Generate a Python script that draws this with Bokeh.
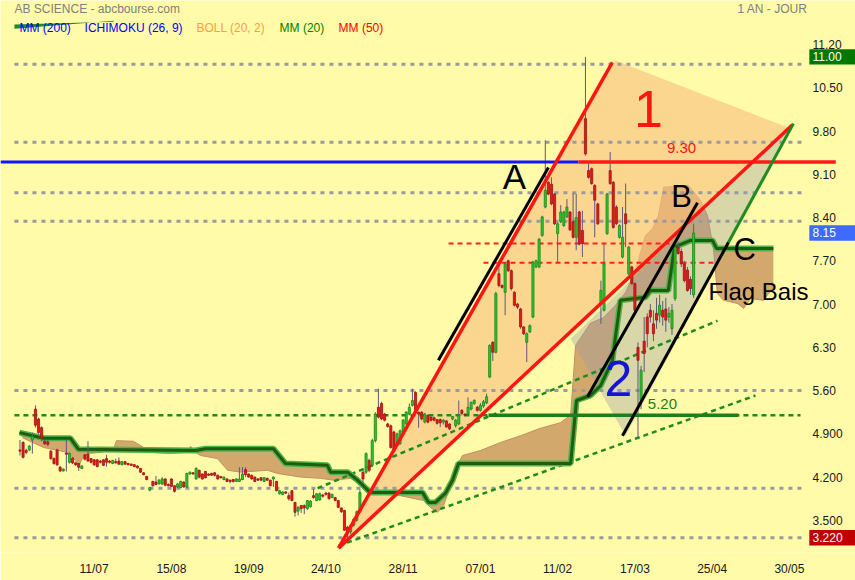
from bokeh.plotting import figure
from bokeh.models import ColumnDataSource, FixedTicker
from bokeh.core.properties import value
from bokeh.embed import file_html
from bokeh.resources import INLINE

# ---------------- daily sessions (index = trading session) ----------------
opens = [
    4.64, 4.76, 4.63, 4.64, 4.80, 5.30, 5.14, 5.00, 4.78, 4.77,
    4.62, 4.50, 4.64, 4.36, 4.30, 4.59, 4.44, 4.51, 4.43, 4.42,
    4.34, 4.56, 4.57, 4.50, 4.48, 4.48, 4.46, 4.48, 4.50, 4.46,
    4.42, 4.45, 4.46, 4.40, 4.45, 4.42, 4.41, 4.40, 4.38, 4.34,
    4.27, 4.21, 3.99, 4.13, 4.12, 4.09, 4.09, 4.17, 4.08, 4.17,
    4.06, 4.04, 4.03, 4.12, 4.04, 4.25, 4.27, 4.17, 4.31, 4.25,
    4.29, 4.25, 4.26, 4.27, 4.23, 4.21, 4.16, 4.17, 4.15, 4.16,
    4.13, 4.13, 4.16, 4.32, 4.25, 4.23, 4.20, 4.17, 4.19, 4.13,
    4.18, 4.15, 4.17, 4.13, 3.93, 3.92, 3.96, 3.90, 3.98, 3.79,
    3.65, 3.74, 3.74, 3.69, 3.72, 3.90, 3.82, 3.83, 3.91, 3.94,
    3.94, 3.87, 3.87, 3.82, 3.70, 3.66, 3.39, 3.31, 3.42, 3.50,
    3.64, 4.28, 4.28, 4.47, 4.39, 4.79, 5.33, 5.39, 5.22, 5.06,
    5.03, 4.93, 4.71, 4.74, 4.93, 5.06, 5.22, 5.36, 5.57, 5.25,
    5.25, 5.09, 5.20, 5.17, 5.16, 5.13, 5.13, 5.09, 5.11, 5.06,
    5.14, 5.03, 5.06, 5.28, 5.22, 5.22, 5.30, 5.39, 5.33, 5.28,
    5.35, 5.40, 5.82, 6.38, 6.22, 7.49, 7.30, 7.19, 7.70, 7.54,
    7.19, 7.00, 6.92, 6.63, 6.38, 6.55, 6.79, 7.60, 7.60, 8.11,
    8.57, 8.97, 8.94, 8.78, 8.14, 8.33, 8.27, 8.41, 8.49, 8.33,
    8.08, 8.49, 8.19, 10.00, 9.16, 9.19, 8.92, 8.62, 7.00, 6.90,
    8.14, 9.16, 8.97, 8.57, 8.08, 7.76, 8.46, 7.49, 7.60, 7.33,
    6.30, 5.44, 6.40, 6.79, 6.90, 6.68, 6.85, 6.82, 6.90, 6.92,
    6.79, 6.60, 7.09, 7.92, 7.85, 7.65, 7.55, 7.40, 7.15,
]
highs = [
    4.80, 4.78, 4.66, 4.72, 4.92, 5.36, 5.16, 5.02, 4.80, 4.80,
    4.64, 4.52, 4.66, 4.38, 4.34, 4.80, 4.60, 4.52, 4.44, 4.43,
    4.39, 4.57, 4.78, 4.51, 4.49, 4.49, 4.48, 4.49, 4.56, 4.47,
    4.48, 4.50, 4.52, 4.46, 4.46, 4.43, 4.42, 4.41, 4.39, 4.35,
    4.28, 4.22, 4.04, 4.14, 4.22, 4.17, 4.20, 4.18, 4.10, 4.18,
    4.07, 4.10, 4.14, 4.13, 4.27, 4.29, 4.28, 4.36, 4.32, 4.26,
    4.30, 4.26, 4.27, 4.28, 4.24, 4.22, 4.21, 4.18, 4.16, 4.17,
    4.18, 4.36, 4.36, 4.36, 4.26, 4.24, 4.21, 4.18, 4.20, 4.20,
    4.19, 4.16, 4.21, 4.14, 3.99, 3.97, 3.97, 3.95, 3.99, 3.80,
    3.73, 3.75, 3.76, 3.83, 3.83, 4.01, 3.94, 3.95, 3.93, 3.96,
    3.96, 3.93, 3.88, 3.83, 3.71, 3.67, 3.41, 3.44, 3.54, 3.66,
    4.00, 4.32, 4.60, 4.50, 4.82, 5.25, 5.63, 5.42, 5.24, 5.08,
    5.05, 4.95, 4.92, 4.97, 5.14, 5.27, 5.39, 5.63, 5.59, 5.26,
    5.27, 5.24, 5.21, 5.18, 5.18, 5.14, 5.15, 5.14, 5.12, 5.07,
    5.19, 5.14, 5.44, 5.30, 5.23, 5.49, 5.42, 5.46, 5.35, 5.40,
    5.45, 5.55, 6.35, 6.40, 7.20, 7.70, 7.32, 7.68, 7.72, 7.56,
    7.21, 7.02, 6.94, 6.64, 6.54, 6.67, 7.70, 7.72, 8.07, 8.43,
    9.65, 8.99, 9.05, 8.80, 8.32, 8.60, 8.51, 8.70, 8.50, 8.80,
    8.78, 8.51, 8.51, 11.00, 9.27, 9.21, 8.94, 8.64, 7.38, 7.98,
    8.80, 9.46, 8.99, 8.60, 8.29, 8.57, 8.95, 7.94, 7.62, 7.35,
    6.38, 6.00, 6.79, 6.85, 7.00, 6.90, 7.10, 7.15, 7.05, 7.10,
    6.95, 7.00, 8.00, 8.00, 7.90, 7.70, 7.60, 7.45, 8.30,
]
lows = [
    4.55, 4.50, 4.57, 4.62, 4.58, 5.00, 4.90, 4.78, 4.72, 4.70,
    4.48, 4.40, 4.38, 4.28, 4.29, 4.29, 4.42, 4.41, 4.38, 4.30,
    4.33, 4.47, 4.45, 4.42, 4.38, 4.36, 4.42, 4.38, 4.37, 4.42,
    4.41, 4.42, 4.40, 4.39, 4.40, 4.39, 4.38, 4.36, 4.34, 4.27,
    4.23, 4.15, 3.97, 4.05, 4.07, 4.08, 4.07, 4.05, 4.05, 4.04,
    3.95, 4.02, 4.02, 4.03, 4.03, 4.24, 4.24, 4.16, 4.18, 4.16,
    4.18, 4.22, 4.22, 4.21, 4.16, 4.18, 4.15, 4.12, 4.10, 4.11,
    4.12, 4.12, 4.15, 4.20, 4.19, 4.16, 4.12, 4.14, 4.14, 4.12,
    4.14, 4.05, 4.04, 3.97, 3.92, 3.91, 3.93, 3.82, 3.81, 3.56,
    3.58, 3.62, 3.60, 3.67, 3.71, 3.85, 3.81, 3.82, 3.87, 3.90,
    3.84, 3.86, 3.81, 3.70, 3.62, 3.33, 3.22, 3.28, 3.40, 3.48,
    3.62, 4.10, 4.25, 4.28, 4.36, 4.76, 5.15, 5.12, 5.10, 5.00,
    4.66, 4.60, 4.69, 4.72, 4.91, 5.04, 5.20, 5.34, 5.22, 5.00,
    5.12, 5.07, 5.07, 5.10, 5.10, 5.05, 5.01, 5.05, 5.00, 4.96,
    5.12, 5.00, 5.04, 5.20, 5.18, 5.20, 5.28, 5.37, 5.26, 5.26,
    5.32, 5.38, 5.80, 6.08, 6.20, 7.27, 7.25, 6.82, 7.52, 7.22,
    6.96, 6.92, 6.60, 6.50, 6.06, 6.53, 6.77, 7.58, 7.58, 8.09,
    8.55, 8.76, 8.60, 8.28, 7.68, 8.31, 8.25, 8.39, 8.18, 8.06,
    7.87, 7.95, 7.76, 9.40, 9.03, 8.93, 8.08, 8.28, 6.68, 6.88,
    8.12, 8.93, 8.22, 8.28, 8.06, 7.74, 7.92, 7.47, 7.31, 6.88,
    4.84, 5.30, 5.90, 6.30, 6.70, 6.40, 6.60, 6.70, 6.65, 6.55,
    6.70, 6.50, 7.05, 7.80, 7.60, 7.35, 7.20, 7.15, 7.10,
]
closes = [
    4.62, 4.52, 4.60, 4.70, 4.86, 5.04, 4.92, 4.83, 4.74, 4.73,
    4.50, 4.42, 4.40, 4.30, 4.33, 4.57, 4.58, 4.43, 4.40, 4.36,
    4.38, 4.49, 4.46, 4.44, 4.40, 4.37, 4.44, 4.39, 4.44, 4.44,
    4.47, 4.43, 4.41, 4.45, 4.41, 4.40, 4.39, 4.37, 4.35, 4.28,
    4.24, 4.16, 4.03, 4.06, 4.08, 4.15, 4.17, 4.07, 4.06, 4.05,
    3.97, 4.09, 4.13, 4.04, 4.26, 4.28, 4.25, 4.34, 4.20, 4.17,
    4.19, 4.23, 4.23, 4.23, 4.17, 4.19, 4.20, 4.13, 4.13, 4.13,
    4.17, 4.17, 4.25, 4.24, 4.20, 4.17, 4.13, 4.15, 4.15, 4.19,
    4.15, 4.06, 4.20, 3.98, 3.98, 3.96, 3.94, 3.85, 3.82, 3.63,
    3.71, 3.69, 3.70, 3.82, 3.81, 3.87, 3.93, 3.93, 3.89, 3.92,
    3.85, 3.92, 3.82, 3.71, 3.64, 3.34, 3.31, 3.42, 3.52, 3.64,
    3.95, 4.17, 4.58, 4.31, 4.79, 5.22, 5.17, 5.14, 5.12, 5.02,
    4.68, 4.63, 4.90, 4.95, 5.12, 5.25, 5.33, 5.44, 5.25, 5.22,
    5.14, 5.22, 5.09, 5.12, 5.12, 5.07, 5.08, 5.12, 5.01, 4.98,
    5.18, 5.12, 5.20, 5.23, 5.20, 5.33, 5.41, 5.44, 5.28, 5.36,
    5.42, 5.50, 6.33, 6.22, 7.17, 7.30, 7.27, 7.65, 7.54, 7.25,
    6.98, 6.95, 6.63, 6.52, 6.52, 6.65, 7.68, 7.70, 8.05, 8.41,
    8.84, 8.78, 8.62, 8.30, 8.30, 8.49, 8.49, 8.57, 8.20, 8.08,
    8.40, 7.97, 7.98, 9.43, 9.05, 8.95, 8.68, 8.30, 7.22, 7.65,
    8.78, 8.95, 8.24, 8.30, 8.27, 8.08, 8.30, 7.92, 7.33, 6.90,
    6.09, 5.93, 6.20, 6.52, 6.79, 6.52, 6.74, 6.98, 6.79, 6.74,
    6.85, 6.90, 7.92, 7.82, 7.65, 7.38, 7.22, 7.25, 8.15,
]

# axis labels
date_ticks = [24, 49, 74, 99, 124, 149, 174, 199, 224, 249]
date_labels = ["11/07", "15/08", "19/09", "24/10", "28/11",
               "07/01", "11/02", "17/03", "25/04", "30/05"]
price_ticks = [11.2, 10.5, 9.8, 9.1, 8.4, 7.7, 7.0, 6.3, 5.6, 4.9, 4.2, 3.5]
price_labels = ["11.20", "10.50", "9.80", "9.10", "8.40", "7.70", "7.00",
                "6.30", "5.60", "4.900", "4.200", "3.500"]

year_high = 11.00
last_price = 8.15
year_low = 3.22

# Ichimoku cloud edges (session, price); span B is the stepped line
span_a_x = [-0.16, 1.13, 7.6, 15.4, 18.0, 18.9, 20.2, 21.8, 26.1, 30.3,
            31.2, 36.7, 40.0, 41.6, 48.7, 54.2, 55.2, 56.8, 58.4, 63.9,
            67.2, 71.4, 80.1, 83.3, 90.8, 97.2, 101.5, 107.0, 110.2, 114.4,
            123.1, 130.6, 132.8, 135.1, 137.1, 139.3, 141.9, 143.2, 149.0, 155.5,
            162.0, 168.4, 174.9, 178.2, 179.8, 184.6, 188.8, 192.7, 196.0, 199.2,
            202.4, 204.7, 206.6, 208.3, 216.3, 220.2, 222.5, 224.4, 225.7, 227.7,
            232.2, 234.2, 236.4, 240.6, 243.8]
span_a_y = [4.92, 4.83, 4.68, 4.60, 4.47, 4.37, 4.50, 4.58, 4.60, 4.65,
            4.79, 4.78, 4.68, 4.60, 4.58, 4.60, 4.70, 4.60, 4.55, 4.50,
            4.31, 4.28, 4.31, 4.26, 4.20, 4.18, 4.15, 4.18, 4.10, 3.94,
            3.90, 3.82, 3.71, 3.63, 3.74, 4.06, 4.42, 4.55, 4.63, 4.76,
            4.87, 4.99, 5.08, 5.20, 6.33, 6.69, 6.78, 6.98, 7.19, 7.54,
            8.11, 8.22, 8.43, 8.89, 8.92, 8.68, 8.43, 7.90, 7.17, 7.06,
            7.01, 6.93, 7.09, 7.06, 7.27]
span_b_x = [-0.16, 7.6, 16.3, 18.9, 56.8, 60.0, 82.0, 85.9, 99.5, 100.5,
            106.0, 109.2, 113.4, 130.3, 132.2, 134.5, 137.7, 140.0, 141.9, 178.2,
            180.1, 184.6, 187.9, 191.7, 194.3, 202.4, 204.0, 209.8, 211.8, 217.0,
            224.1, 225.4, 243.8]
span_b_y = [4.92, 4.83, 4.83, 4.65, 4.63, 4.66, 4.66, 4.42, 4.39, 4.28,
            4.28, 4.15, 3.95, 3.95, 3.79, 3.79, 3.94, 4.15, 4.42, 4.42,
            5.44, 5.52, 5.68, 6.09, 7.06, 7.11, 7.22, 7.22, 7.92, 8.03,
            8.03, 7.90, 7.90]

# hand-drawn analysis: horizontal levels
support_levels = [10.88, 9.62, 8.80, 8.34, 5.60, 4.02, 3.22]
resistance_level = 9.30
flag_base = 5.20
gap_levels = [7.98, 7.67]
gap_starts = [138.7, 150.0]
gap_ends = [210.5, 224.4]

# pennant "1" and flag "2" (session, price vertices)
pennant_x = [103.1, 192.7, 249.4]
pennant_y = [3.05, 10.94, 9.84]
flag_x = [178.2, 195.95, 250.3]
flag_y = [6.44, 4.87, 9.92]

# red trend lines from the October low
red_x0, red_y0 = [103.1, 103.1], [3.05, 3.05]
red_x1, red_y1 = [191.7, 250.0], [10.91, 9.90]
# black channel lines A, B, C
black_x0, black_y0 = [135.4, 183.65, 194.98], [6.09, 5.50, 4.87]
black_x1, black_y1 = [171.0, 219.25, 229.3], [9.21, 8.64, 8.00]
# green flag edge
flag_edge_x, flag_edge_y = [229.3, 250.3], [8.00, 9.92]
# green dotted support trend lines
dot_x0, dot_y0 = [96.3, 103.1], [4.02, 3.09]
dot_x1, dot_y1 = [225.7, 238.0], [6.73, 5.52]

BG = "#FFFBA8"
FONT = "Liberation Sans"

# the price scale lives inside the right part of the frame
SCALE_X = 256.5      # session position of the price-scale labels
FRAME_END = 270.39

p = figure(frame_width=855, frame_height=552,
           x_range=(-6.31, FRAME_END), y_range=(2.98, 11.912),
           y_axis_location=None, output_backend="svg",
           toolbar_location=None, min_border_left=0, min_border_top=0,
           min_border_right=0, min_border_bottom=28,
           background_fill_color=BG, border_fill_color=BG)
p.outline_line_color = None
p.xgrid.visible = False
p.ygrid.visible = False

ax = p.xaxis[0]
ax.axis_line_color = None
ax.major_tick_line_color = None
ax.minor_tick_line_color = None
ax.major_tick_out = 0
ax.major_tick_in = 0
ax.major_label_text_font = FONT
ax.major_label_text_font_size = "12px"
ax.major_label_text_color = "#1A1A1A"
ax.ticker = FixedTicker(ticks=date_ticks)
ax.major_label_overrides = dict(zip(date_ticks, date_labels))
ax.major_label_standoff = 9

x_lo = p.x_range.start

# Ichimoku cloud
p.patch(span_a_x + span_b_x[::-1], span_a_y + span_b_y[::-1],
        fill_color="#D3A86C", line_color=None)
p.line(span_a_x, span_a_y, line_color="#BE9260", line_width=1)

# pennant and flag shading
p.patch(pennant_x, pennant_y, fill_color="#F9BE80", fill_alpha=0.62,
        line_color=None)
p.patch(flag_x, flag_y, fill_color="#9C9CA6", fill_alpha=0.38,
        line_color=None)

# horizontal dotted levels
n_lv = len(support_levels)
p.segment(x0=[-1.8] * n_lv, y0=support_levels, x1=[254.2] * n_lv,
          y1=support_levels, line_color="#9A9AA0", line_width=3,
          line_dash="4 5")
p.segment(x0=[-1.8], y0=[flag_base], x1=[252.6], y1=[flag_base],
          line_color="#1E8C1E", line_width=2.5, line_dash="5 4")
p.segment(x0=gap_starts, y0=gap_levels, x1=gap_ends, y1=gap_levels,
          line_color="#FF2020", line_width=2, line_dash="5 4")
p.segment(x0=dot_x0, y0=dot_y0, x1=dot_x1, y1=dot_y1,
          line_color="#1E8C1E", line_width=2.5, line_dash="5 4")

# stepped span B line (halo + core)
p.line(span_b_x, span_b_y, line_color="#4FB34A", line_width=6)
p.line(span_b_x, span_b_y, line_color="#1F5C10", line_width=3)

# candles
n = min(len(opens), len(highs), len(lows), len(closes))
idx = list(range(n))
body_bottom = [min(opens[i], closes[i]) for i in idx]
body_top = [max(max(opens[i], closes[i]), body_bottom[i] + 0.02) for i in idx]
up = [closes[i] >= opens[i] for i in idx]
src = ColumnDataSource(dict(
    x=idx, high=highs[:n], low=lows[:n], top=body_top, bottom=body_bottom,
    fill=["#2DC82D" if u else "#E21B1B" for u in up],
    edge=["#168816" if u else "#A51010" for u in up],
))
p.segment(x0="x", y0="low", x1="x", y1="high", source=src,
          line_color="#5E5A78", line_width=1)
p.vbar(x="x", width=0.68, top="top", bottom="bottom", source=src,
       fill_color="fill", line_color="edge", line_width=0.8)

# resistance / flag base lines
p.segment(x0=[x_lo], y0=[resistance_level], x1=[180.7], y1=[resistance_level],
          line_color="#1515FF", line_width=3)
p.segment(x0=[180.7], y0=[resistance_level], x1=[264.0], y1=[resistance_level],
          line_color="#FF1A1A", line_width=3.5)
p.segment(x0=[151.6], y0=[flag_base], x1=[232.5], y1=[flag_base],
          line_color="#1E7E1E", line_width=3.5)

# trend lines
p.segment(x0=red_x0, y0=red_y0, x1=red_x1, y1=red_y1,
          line_color="#FF1414", line_width=3.5)
p.segment(x0=black_x0, y0=black_y0, x1=black_x1, y1=black_y1,
          line_color="#000000", line_width=3)
p.line(flag_edge_x, flag_edge_y, line_color="#1E8C1E", line_width=3)

# header strip mark next to the legend
p.patch([-1.8, 30.3, 30.3, -1.8], [11.455, 11.585, 11.570, 11.525],
        fill_color="#1E8C1E", line_color=None)

# annotation texts
notes = ColumnDataSource(dict(
    x=[160.0, 214.1, 234.5, 203.4, 193.7, 222.8, 214.1, 207.9],
    y=[9.06, 8.74, 7.88, 10.15, 5.80, 7.20, 9.52, 5.39],
    text=["A", "B", "C", "1", "2", "Flag Bais", f"{resistance_level:.2f}",
          f"{flag_base:.2f}"],
    size=["35px", "31px", "31px", "52px", "50px", "24px", "15px", "15px"],
    color=["#000000", "#000000", "#000000", "#FF1414", "#1414D2", "#000000",
           "#FF1414", "#1E7E1E"],
    align=["center", "center", "center", "center", "center", "left",
           "center", "center"],
))
p.text(x="x", y="y", text="text", source=notes, text_font=value(FONT),
       text_font_size="size", text_color="color", text_align="align",
       text_baseline="middle")

# header texts
head = ColumnDataSource(dict(
    x=[-1.78, 232.2, -0.16, 20.9, 57.1, 84.0, 103.1],
    y=[11.78, 11.78, 11.46, 11.46, 11.46, 11.46, 11.46],
    text=["AB SCIENCE - abcbourse.com", "1 AN - JOUR", "MM (200)",
          "ICHIMOKU (26, 9)", "BOLL (20, 2)", "MM (20)", "MM (50)"],
    color=["#808080", "#808080", "#0000FF", "#0000FF", "#FFA040", "#008000",
           "#FF0000"],
))
p.text(x="x", y="y", text="text", source=head, text_font=value(FONT),
       text_font_size="12px", text_color="color", text_align="left",
       text_baseline="middle")

# price scale on the right
n_t = len(price_ticks)
p.text(x=[SCALE_X] * n_t, y=price_ticks, text=price_labels,
       text_font=value(FONT), text_font_size="12px", text_color="#1A1A1A",
       text_align="left", text_baseline="middle")

# highlighted prices on the price scale: high, last, low
marks = [year_high, last_price, year_low]
mark_text = [f"{year_high:.2f}", f"{last_price:.2f}", f"{year_low:.3f}"]
mark_color = ["#007800", "#3D6BFF", "#C00000"]
p.quad(left=[255.45] * 3, right=[FRAME_END] * 3,
       bottom=[m - 0.125 for m in marks], top=[m + 0.125 for m in marks],
       fill_color=mark_color, line_color=None)
p.text(x=[SCALE_X] * 3, y=marks, text=mark_text, text_font=value(FONT),
       text_font_size="12px", text_color="white", text_align="left",
       text_baseline="middle")

open("out.html", "w").write(file_html(p, INLINE))
